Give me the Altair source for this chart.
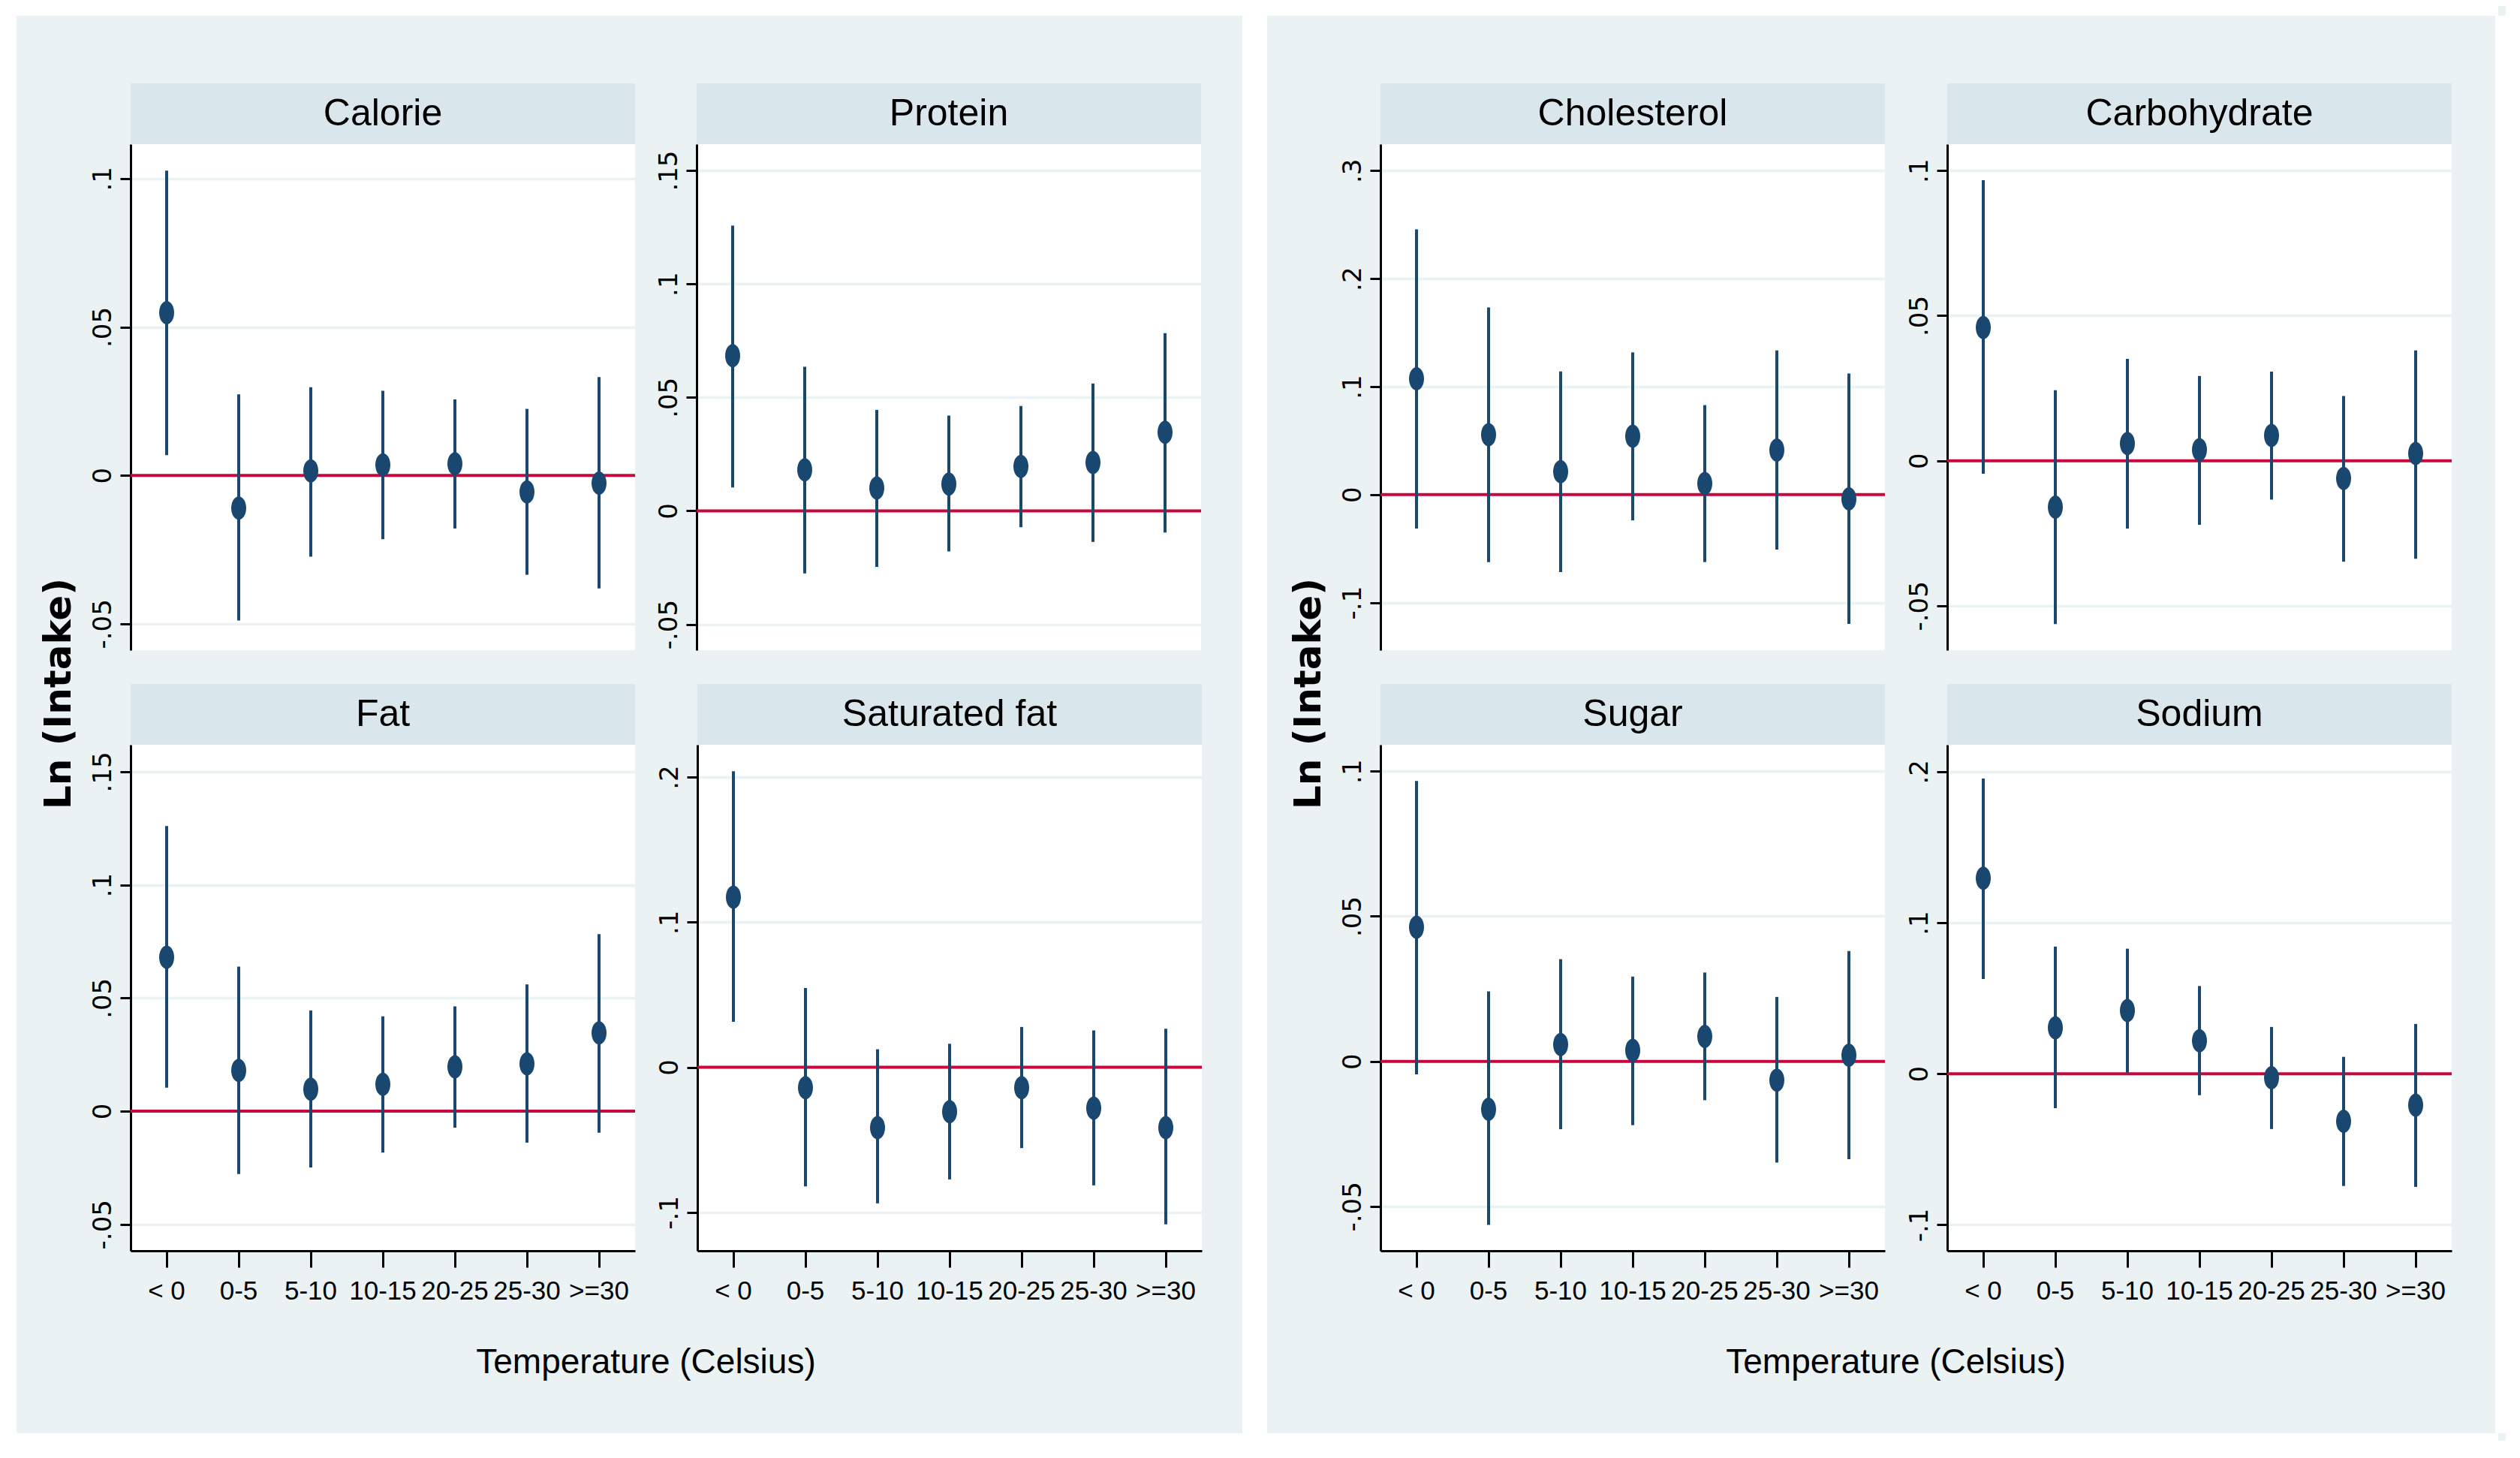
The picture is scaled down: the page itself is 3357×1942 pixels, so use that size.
import altair as alt
import pandas as pd

# ---------------- data ----------------
CATEGORIES = ["< 0", "0-5", "5-10", "10-15", "20-25", "25-30", ">=30"]

calorie_est = [0.0548, -0.0110, 0.0015, 0.0035, 0.0039, -0.0056, -0.0026]
calorie_lo = [0.0068, -0.0489, -0.0274, -0.0215, -0.0179, -0.0335, -0.0381]
calorie_hi = [0.1027, 0.0273, 0.0297, 0.0285, 0.0256, 0.0224, 0.0331]

protein_est = [0.0684, 0.0181, 0.0101, 0.0118, 0.0196, 0.0213, 0.0346]
protein_lo = [0.0103, -0.0276, -0.0247, -0.0179, -0.0072, -0.0137, -0.0095]
protein_hi = [0.1257, 0.0635, 0.0445, 0.0420, 0.0462, 0.0561, 0.0783]

fat_est = [0.0680, 0.0180, 0.0097, 0.0119, 0.0196, 0.0209, 0.0346]
fat_lo = [0.0104, -0.0278, -0.0249, -0.0183, -0.0073, -0.0139, -0.0095]
fat_hi = [0.1260, 0.0639, 0.0445, 0.0419, 0.0463, 0.0560, 0.0782]

satfat_est = [0.1172, -0.0141, -0.0416, -0.0306, -0.0141, -0.0282, -0.0416]
satfat_lo = [0.0313, -0.0821, -0.0938, -0.0773, -0.0557, -0.0814, -0.1082]
satfat_hi = [0.2041, 0.0546, 0.0124, 0.0162, 0.0278, 0.0254, 0.0265]

chol_est = [0.1073, 0.0554, 0.0213, 0.0541, 0.0102, 0.0412, -0.0040]
chol_lo = [-0.0315, -0.0625, -0.0718, -0.0239, -0.0625, -0.0510, -0.1197]
chol_hi = [0.2457, 0.1734, 0.1140, 0.1317, 0.0829, 0.1335, 0.1122]

carb_est = [0.0459, -0.0160, 0.0059, 0.0038, 0.0087, -0.0061, 0.0025]
carb_lo = [-0.0045, -0.0563, -0.0234, -0.0221, -0.0134, -0.0348, -0.0338]
carb_hi = [0.0967, 0.0243, 0.0351, 0.0292, 0.0307, 0.0223, 0.0380]

sugar_est = [0.0462, -0.0165, 0.0058, 0.0038, 0.0086, -0.0065, 0.0021]
sugar_lo = [-0.0045, -0.0564, -0.0234, -0.0220, -0.0134, -0.0349, -0.0337]
sugar_hi = [0.0966, 0.0241, 0.0352, 0.0292, 0.0306, 0.0222, 0.0380]

sodium_est = [0.1294, 0.0304, 0.0419, 0.0218, -0.0026, -0.0314, -0.0208]
sodium_lo = [0.0627, -0.0228, 0.0007, -0.0142, -0.0366, -0.0743, -0.0749]
sodium_hi = [0.1954, 0.0842, 0.0828, 0.0581, 0.0310, 0.0112, 0.0330]

ZERO_LINE = [0.0]

# axis ranges and tick values per panel
RANGES = {
    "Calorie": ([-0.0589, 0.1116], [-0.05, 0, 0.05, 0.1]),
    "Protein": ([-0.0614, 0.1616], [-0.05, 0, 0.05, 0.1, 0.15]),
    "Fat": ([-0.0617, 0.1619], [-0.05, 0, 0.05, 0.1, 0.15]),
    "Saturated fat": ([-0.1265, 0.2223], [-0.1, 0, 0.1, 0.2]),
    "Cholesterol": ([-0.1441, 0.3246], [-0.1, 0, 0.1, 0.2, 0.3]),
    "Carbohydrate": ([-0.0653, 0.1091], [-0.05, 0, 0.05, 0.1]),
    "Sugar": ([-0.0653, 0.1091], [-0.05, 0, 0.05, 0.1]),
    "Sodium": ([-0.1172, 0.2178], [-0.1, 0, 0.1, 0.2]),
}

# ---------------- styling ----------------
NAVY = "#1A476F"
RED = "#C8073C"
BG = "#EAF2F3"
STRIP = "#D9E6EB"
SANS = "Liberation Sans, Arial, sans-serif"
WIDE = "DejaVu Sans, Verdana, sans-serif"
CLEAR = "rgba(0,0,0,0)"
PW, PH, HH = 672, 674, 81
ELLIPSE = "M0,-1 A0.645,1 0 1,1 0,1 A0.645,1 0 1,1 0,-1 Z"

LABEL_EXPR = ("datum.value == 0 ? '0' : (datum.value < 0 ? '-' : '') + "
              "slice(format(abs(datum.value), '.2~f'), 1)")

YAX = dict(
    title=None, labelAngle=-90, labelAlign="center", labelBaseline="bottom",
    labelFont=WIDE, labelFontSize=34, labelPadding=6, tickSize=14,
    labelOverlap=False, labelFlush=False,
)


def plot_panel(name, est, lo, hi, bottom):
    domain, ticks = RANGES[name]
    df = pd.DataFrame({"cat": CATEGORIES, "est": est, "lo": lo, "hi": hi})
    zdf = pd.DataFrame({"zero": ZERO_LINE})
    yaxis = alt.Axis(
        values=ticks, labelExpr=LABEL_EXPR,
        grid=True, gridColor=BG, gridWidth=3.5,
        domainColor="black", domainWidth=3,
        tickColor="black", tickWidth=3, labelColor="black", **YAX,
    )
    yscale = alt.Scale(domain=domain, nice=False, zero=False)
    if bottom:
        xaxis = alt.Axis(
            title=None, grid=False, labelAngle=0,
            domainColor="black", domainWidth=3,
            tickColor="black", tickWidth=3, tickSize=22,
            labelFont=SANS, labelFontSize=35, labelColor="black",
            labelPadding=14,
        )
    else:
        xaxis = None
    x = alt.X("cat:N", sort=CATEGORIES, axis=xaxis)

    zero = alt.Chart(zdf).mark_rule(color=RED, strokeWidth=4).encode(
        y=alt.Y("zero:Q", scale=yscale, axis=yaxis)
    )
    ci = alt.Chart(df).mark_rule(color=NAVY, strokeWidth=4).encode(
        x=x,
        y=alt.Y("lo:Q", scale=yscale, axis=yaxis),
        y2="hi:Q",
    )
    pts = alt.Chart(df).mark_point(
        filled=True, shape=ELLIPSE, size=961, color=NAVY, opacity=1, strokeWidth=0
    ).encode(
        x=x,
        y=alt.Y("est:Q", scale=yscale, axis=yaxis),
    )
    return alt.layer(zero, ci, pts).properties(
        width=PW, height=PH, view=alt.ViewBackground(fill="white", stroke=None)
    )


def header(name):
    # invisible y axis so that the strip lines up with the plot below it
    hidden = alt.Axis(values=[0], labelExpr="'0'", grid=False, domain=False,
                      tickColor=CLEAR, labelColor=CLEAR, **YAX)
    return alt.Chart(pd.DataFrame({"t": [name], "v": [0]})).mark_text(
        font=SANS, fontSize=50, color="black", baseline="middle", align="center"
    ).encode(
        text="t:N",
        y=alt.Y("v:Q", scale=alt.Scale(domain=[-1, 1]), axis=hidden),
    ).properties(
        width=PW, height=HH, view=alt.ViewBackground(fill=STRIP, stroke=None)
    )


def panel(name, est, lo, hi, bottom):
    return alt.vconcat(header(name), plot_panel(name, est, lo, hi, bottom),
                       spacing=0)


def blank(w, h, fill=None):
    c = alt.Chart(pd.DataFrame({"a": [0]})).mark_point(opacity=0, size=1).encode(
        opacity=alt.value(0)
    )
    if fill:
        return c.properties(width=w, height=h,
                            view=alt.ViewBackground(fill=fill, stroke=None))
    return c.properties(width=w, height=h,
                        view=alt.ViewBackground(stroke=None))


def group(p):
    row1 = alt.hconcat(panel(*p[0], False), panel(*p[1], False), spacing=26)
    row2 = alt.hconcat(panel(*p[2], True), panel(*p[3], True), spacing=26)
    core = alt.vconcat(
        row1, row2, spacing=45,
        title=alt.TitleParams("Ln (Intake)", orient="left", anchor="middle",
                              font=WIDE, fontSize=50, fontWeight="bold",
                              color="black", offset=16),
    )
    withx = alt.vconcat(
        core,
        title=alt.TitleParams("Temperature (Celsius)", orient="bottom",
                              anchor="middle", font=SANS, fontSize=46,
                              fontWeight="normal", color="black", offset=56,
                              dx=32),
    )
    return alt.vconcat(blank(10, 90), withx, spacing=0)


left = group([
    ("Calorie", calorie_est, calorie_lo, calorie_hi),
    ("Protein", protein_est, protein_lo, protein_hi),
    ("Fat", fat_est, fat_lo, fat_hi),
    ("Saturated fat", satfat_est, satfat_lo, satfat_hi),
])
right = group([
    ("Cholesterol", chol_est, chol_lo, chol_hi),
    ("Carbohydrate", carb_est, carb_lo, carb_hi),
    ("Sugar", sugar_est, sugar_lo, sugar_hi),
    ("Sodium", sodium_est, sodium_lo, sodium_hi),
])

middle = alt.hconcat(
    blank(14, 1888, "white"), blank(31, 1888),
    left,
    blank(52, 1888), blank(33, 1888, "white"), blank(30, 1888),
    right,
    blank(56, 1888), blank(14, 1888, "white"),
    spacing=0,
)

chart = alt.vconcat(
    blank(3320, 13, "white"), middle, blank(3320, 10, "white"), spacing=0
).properties(background=BG, padding=0).configure_view(stroke=None)

chart.save("out.html", embed_options={"renderer": "svg", "actions": False})
